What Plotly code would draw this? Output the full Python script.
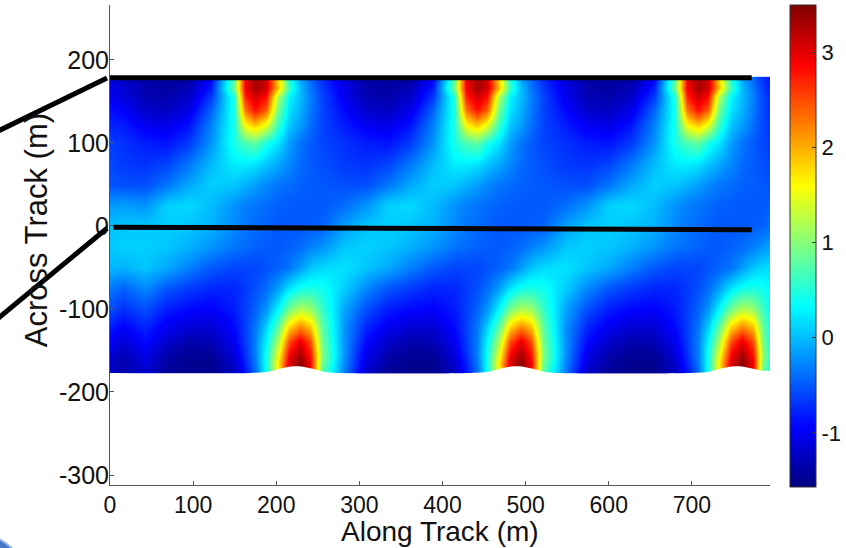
import plotly.graph_objects as go

# Along-track sample positions (m); extra samples bracket each peak
ALONG = [-11, 16,
         42, 69, 95, 122, 149, 162, 175, 188, 202, 215, 228, 241, 255, 282,
         308, 335, 361, 388, 414, 428, 441, 454, 468, 481, 494, 507, 521, 547,
         574, 600, 627, 654, 680, 694, 707, 720, 733, 747, 760, 773, 786, 813]
# Across-track rows (m), bottom to top
ACROSS = [-174, -166, -155, -140, -122, -100, -75, -50, -25, 0,
          25, 50, 75, 100, 122, 140, 155, 166, 175]

# Field values, one list per across-track row (bottom to top)
ROW_M174 = [-1.15, -1.35,
            -1.2, -1.45, -1.5, -1.5, -1.25, -0.83, -0.4, 0.4, 1.6, 3.0, 3.45, 2.9, 0.8, -0.3,
            -1.2, -1.45, -1.5, -1.5, -1.25, -0.83, -0.4, 0.4, 1.6, 3.0, 3.45, 2.9, 0.8, -0.3,
            -1.2, -1.45, -1.5, -1.5, -1.25, -0.83, -0.4, 0.4, 1.6, 3.0, 3.45, 2.9, 0.8, -0.3]
ROW_M166 = [-1.1, -1.35,
            -1.1, -1.4, -1.5, -1.5, -1.2, -0.78, -0.35, 0.4, 1.7, 3.05, 3.45, 2.95, 0.9, -0.25,
            -1.1, -1.4, -1.5, -1.5, -1.2, -0.78, -0.35, 0.4, 1.7, 3.05, 3.45, 2.95, 0.9, -0.25,
            -1.1, -1.4, -1.5, -1.5, -1.2, -0.78, -0.35, 0.4, 1.7, 3.05, 3.45, 2.95, 0.9, -0.25]
ROW_M155 = [-1.0, -1.3,
            -1.05, -1.35, -1.45, -1.45, -1.1, -0.7, -0.3, 0.4, 1.5, 2.9, 3.3, 2.8, 1.0, -0.2,
            -1.05, -1.35, -1.45, -1.45, -1.1, -0.7, -0.3, 0.4, 1.5, 2.9, 3.3, 2.8, 1.0, -0.2,
            -1.05, -1.35, -1.45, -1.45, -1.1, -0.7, -0.3, 0.4, 1.5, 2.9, 3.3, 2.8, 1.0, -0.2]
ROW_M140 = [-0.85, -1.15,
            -0.9, -1.2, -1.35, -1.3, -1.0, -0.65, -0.3, 0.3, 1.2, 2.5, 3.0, 2.5, 0.9, -0.2,
            -0.9, -1.2, -1.35, -1.3, -1.0, -0.65, -0.3, 0.3, 1.2, 2.5, 3.0, 2.5, 0.9, -0.2,
            -0.9, -1.2, -1.35, -1.3, -1.0, -0.65, -0.3, 0.3, 1.2, 2.5, 3.0, 2.5, 0.9, -0.2]
ROW_M122 = [-0.7, -0.95,
            -0.75, -1.0, -1.15, -1.15, -0.9, -0.63, -0.35, 0.1, 0.8, 1.8, 2.2, 1.9, 0.8, -0.2,
            -0.75, -1.0, -1.15, -1.15, -0.9, -0.63, -0.35, 0.1, 0.8, 1.8, 2.2, 1.9, 0.8, -0.2,
            -0.75, -1.0, -1.15, -1.15, -0.9, -0.63, -0.35, 0.1, 0.8, 1.8, 2.2, 1.9, 0.8, -0.2]
ROW_M100 = [-0.45, -0.7,
            -0.55, -0.8, -0.9, -0.95, -0.8, -0.63, -0.45, -0.2, 0.3, 0.9, 1.2, 1.1, 0.6, -0.1,
            -0.55, -0.8, -0.9, -0.95, -0.8, -0.63, -0.45, -0.2, 0.3, 0.9, 1.2, 1.1, 0.6, -0.1,
            -0.55, -0.8, -0.9, -0.95, -0.8, -0.63, -0.45, -0.2, 0.3, 0.9, 1.2, 1.1, 0.6, -0.1]
ROW_M75 = [-0.25, -0.45,
           -0.25, -0.5, -0.65, -0.75, -0.75, -0.65, -0.55, -0.4, -0.15, 0.2, 0.4, 0.45, 0.4, 0.1,
           -0.25, -0.5, -0.65, -0.75, -0.75, -0.65, -0.55, -0.4, -0.15, 0.2, 0.4, 0.45, 0.4, 0.1,
           -0.25, -0.5, -0.65, -0.75, -0.75, -0.65, -0.55, -0.4, -0.15, 0.2, 0.4, 0.45, 0.4, 0.1]
ROW_M50 = [0.0, -0.05,
           0.05, -0.1, -0.3, -0.5, -0.6, -0.6, -0.6, -0.53, -0.45, -0.35, -0.15, 0.05, 0.15, 0.2,
           0.05, -0.1, -0.3, -0.5, -0.6, -0.6, -0.6, -0.53, -0.45, -0.35, -0.15, 0.05, 0.15, 0.2,
           0.05, -0.1, -0.3, -0.5, -0.6, -0.6, -0.6, -0.53, -0.45, -0.35, -0.15, 0.05, 0.15, 0.2]
ROW_M25 = [0.05, 0.1,
           0.1, 0.05, -0.05, -0.2, -0.35, -0.4, -0.45, -0.48, -0.5, -0.45, -0.4, -0.3, -0.2, 0.05,
           0.1, 0.05, -0.05, -0.2, -0.35, -0.4, -0.45, -0.48, -0.5, -0.45, -0.4, -0.3, -0.2, 0.05,
           0.1, 0.05, -0.05, -0.2, -0.35, -0.4, -0.45, -0.48, -0.5, -0.45, -0.4, -0.3, -0.2, 0.05]
ROW_0 = [0.0, 0.05,
         0.05, 0.1, 0.05, -0.05, -0.25, -0.35, -0.4, -0.45, -0.5, -0.5, -0.5, -0.48, -0.45, -0.15,
         0.05, 0.1, 0.05, -0.05, -0.25, -0.35, -0.4, -0.45, -0.5, -0.5, -0.5, -0.48, -0.45, -0.15,
         0.05, 0.1, 0.05, -0.05, -0.25, -0.35, -0.4, -0.45, -0.5, -0.5, -0.5, -0.48, -0.45, -0.15]
ROW_25 = [-0.2, -0.15,
          -0.2, 0.1, 0.15, 0.0, -0.2, -0.3, -0.35, -0.4, -0.45, -0.48, -0.5, -0.5, -0.5, -0.4,
          -0.2, 0.1, 0.15, 0.0, -0.2, -0.3, -0.35, -0.4, -0.45, -0.48, -0.5, -0.5, -0.5, -0.4,
          -0.2, 0.1, 0.15, 0.0, -0.2, -0.3, -0.35, -0.4, -0.45, -0.48, -0.5, -0.5, -0.5, -0.4]
ROW_50 = [-0.5, -0.55,
          -0.55, -0.35, -0.1, 0.1, 0.05, -0.05, -0.15, -0.25, -0.35, -0.4, -0.45, -0.48, -0.5, -0.55,
          -0.55, -0.35, -0.1, 0.1, 0.05, -0.05, -0.15, -0.25, -0.35, -0.4, -0.45, -0.48, -0.5, -0.55,
          -0.55, -0.35, -0.1, 0.1, 0.05, -0.05, -0.15, -0.25, -0.35, -0.4, -0.45, -0.48, -0.5, -0.55]
ROW_75 = [-0.55, -0.65,
          -0.7, -0.6, -0.35, 0.0, 0.25, 0.25, 0.2, 0.05, -0.1, -0.25, -0.4, -0.48, -0.55, -0.65,
          -0.7, -0.6, -0.35, 0.0, 0.25, 0.25, 0.2, 0.05, -0.1, -0.25, -0.4, -0.48, -0.55, -0.65,
          -0.7, -0.6, -0.35, 0.0, 0.25, 0.25, 0.2, 0.05, -0.1, -0.25, -0.4, -0.48, -0.55, -0.65]
ROW_100 = [-0.6, -0.7,
           -0.8, -0.85, -0.65, -0.2, 0.45, 0.7, 0.8, 0.45, 0.2, -0.15, -0.35, -0.48, -0.6, -0.7,
           -0.8, -0.85, -0.65, -0.2, 0.45, 0.7, 0.8, 0.45, 0.2, -0.15, -0.35, -0.48, -0.6, -0.7,
           -0.8, -0.85, -0.65, -0.2, 0.45, 0.7, 0.8, 0.45, 0.2, -0.15, -0.35, -0.48, -0.6, -0.7]
ROW_122 = [-0.75, -0.8,
           -1.0, -1.05, -0.85, -0.3, 0.45, 1.6, 1.9, 1.5, 0.6, 0.05, -0.15, -0.38, -0.6, -0.8,
           -1.0, -1.05, -0.85, -0.3, 0.45, 1.6, 1.9, 1.5, 0.6, 0.05, -0.15, -0.38, -0.6, -0.8,
           -1.0, -1.05, -0.85, -0.3, 0.45, 1.6, 1.9, 1.5, 0.6, 0.05, -0.15, -0.38, -0.6, -0.8]
ROW_140 = [-0.85, -0.95,
           -1.2, -1.25, -1.05, -0.45, 0.45, 2.3, 2.8, 2.4, 0.9, 0.2, -0.05, -0.33, -0.6, -0.9,
           -1.2, -1.25, -1.05, -0.45, 0.45, 2.3, 2.8, 2.4, 0.9, 0.2, -0.05, -0.33, -0.6, -0.9,
           -1.2, -1.25, -1.05, -0.45, 0.45, 2.3, 2.8, 2.4, 0.9, 0.2, -0.05, -0.33, -0.6, -0.9]
ROW_155 = [-0.95, -1.1,
           -1.3, -1.35, -1.2, -0.65, 0.5, 2.7, 3.1, 2.8, 1.2, 0.3, 0.0, -0.3, -0.6, -1.0,
           -1.3, -1.35, -1.2, -0.65, 0.5, 2.7, 3.1, 2.8, 1.2, 0.3, 0.0, -0.3, -0.6, -1.0,
           -1.3, -1.35, -1.2, -0.65, 0.5, 2.7, 3.1, 2.8, 1.2, 0.3, 0.0, -0.3, -0.6, -1.0]
ROW_166 = [-1.0, -1.15,
           -1.35, -1.4, -1.3, -0.8, 0.9, 2.9, 3.3, 3.1, 1.9, 0.6, 0.0, -0.35, -0.65, -1.05,
           -1.35, -1.4, -1.3, -0.8, 0.9, 2.9, 3.3, 3.1, 1.9, 0.6, 0.0, -0.35, -0.65, -1.05,
           -1.35, -1.4, -1.3, -0.8, 0.9, 2.9, 3.3, 3.1, 1.9, 0.6, 0.0, -0.35, -0.65, -1.05]
ROW_175 = [-1.0, -1.2,
           -1.35, -1.4, -1.35, -0.9, 0.8, 2.9, 3.3, 3.1, 1.8, 0.5, -0.1, -0.4, -0.7, -1.1,
           -1.35, -1.4, -1.35, -0.9, 0.8, 2.9, 3.3, 3.1, 1.8, 0.5, -0.1, -0.4, -0.7, -1.1,
           -1.35, -1.4, -1.35, -0.9, 0.8, 2.9, 3.3, 3.1, 1.8, 0.5, -0.1, -0.4, -0.7, -1.1]

FIELD = [ROW_M174, ROW_M166, ROW_M155, ROW_M140, ROW_M122, ROW_M100, ROW_M75,
         ROW_M50, ROW_M25, ROW_0, ROW_25, ROW_50, ROW_75, ROW_100, ROW_122,
         ROW_140, ROW_155, ROW_166, ROW_175]

# Lower boundary of the mapped swath (m); it bulges up under each peak
SWATH_EDGE_X = [0, 170, 188, 202, 214, 222, 232, 244, 257, 275,
                435, 453, 467, 479, 487, 497, 509, 522, 540,
                700, 718, 732, 744, 752, 762, 774, 787, 794]
SWATH_EDGE_Y = [-177, -177, -176, -172.5, -170, -169, -169.5, -172, -175.5, -177,
                -177, -176, -172.5, -170, -169, -169.5, -172, -175.5, -177,
                -177, -176, -172.5, -170, -169, -169.5, -172, -174.5, -175]
SWATH_FLOOR = -190

# Track lines drawn over the field
EDGE_TRACK_X = [0, 772]
EDGE_TRACK_Y = [178.5, 178.5]
CENTER_TRACK_X = [4, 772]
CENTER_TRACK_Y = [-1.5, -4.5]

X_TICKS = [0, 100, 200, 300, 400, 500, 600, 700]
Y_TICKS = [-300, -200, -100, 0, 100, 200]
Y_LABELS = ["-300", "-200", "-100", "0", "100", "200"]
CBAR_TICKS = [-1, 0, 1, 2, 3]
CBAR_LABELS = ["-1", "0", "1", "2", "3"]

JET = [[0.0, "#000080"], [0.125, "#0000ff"], [0.375, "#00ffff"],
       [0.625, "#ffff00"], [0.875, "#ff0000"], [1.0, "#800000"]]

FONT = "Liberation Sans, Arial, sans-serif"

fig = go.Figure()
fig.add_trace(go.Heatmap(
    x=ALONG, y=ACROSS, z=FIELD,
    zmin=-1.57, zmax=3.5, zsmooth="best",
    colorscale=JET,
    colorbar=dict(
        x=1.0303, xanchor="left", xpad=0,
        y=1.0, yanchor="top", ypad=0,
        len=482, lenmode="pixels",
        thickness=26, thicknessmode="pixels",
        outlinewidth=1, outlinecolor="#333333",
        tickvals=CBAR_TICKS, ticktext=CBAR_LABELS,
        ticks="inside", ticklen=4, tickcolor="#333333",
        tickfont=dict(family=FONT, size=22, color="#111111"),
    ),
    hoverinfo="skip",
))

# blank out everything below the swath's lower boundary
mask_x = SWATH_EDGE_X + [SWATH_EDGE_X[-1], SWATH_EDGE_X[0]]
mask_y = SWATH_EDGE_Y + [SWATH_FLOOR, SWATH_FLOOR]
fig.add_trace(go.Scatter(x=mask_x, y=mask_y, mode="lines", fill="toself",
                         fillcolor="white", line=dict(width=0, color="white"),
                         line_shape="spline",
                         showlegend=False, hoverinfo="skip"))

fig.add_trace(go.Scatter(x=EDGE_TRACK_X, y=EDGE_TRACK_Y, mode="lines",
                         line=dict(color="black", width=5), showlegend=False,
                         hoverinfo="skip"))
fig.add_trace(go.Scatter(x=CENTER_TRACK_X, y=CENTER_TRACK_Y, mode="lines",
                         line=dict(color="black", width=5), showlegend=False,
                         hoverinfo="skip"))

axis_common = dict(
    showgrid=False, zeroline=False, showline=True, linecolor="#555555",
    linewidth=1, ticks="inside", ticklen=4, tickcolor="#555555",
    layer="above traces",
)
fig.update_xaxes(range=[0, 794], tickvals=X_TICKS, **axis_common,
                 tickfont=dict(family=FONT, size=23, color="#111111"),
                 ticklabelstandoff=-1)
fig.update_yaxes(range=[-312, 266], tickvals=Y_TICKS, ticktext=Y_LABELS,
                 **axis_common,
                 tickfont=dict(family=FONT, size=25, color="#111111"),
                 ticklabelstandoff=-5)

# axis titles placed as free text
fig.add_annotation(text="Along Track (m)", xref="paper", yref="paper",
                   x=0.5, y=-0.097, xanchor="center", yanchor="middle",
                   showarrow=False,
                   font=dict(family=FONT, size=28, color="#111111"))
fig.add_annotation(text="Across Track (m)", textangle=-90, xref="paper", yref="paper",
                   x=-0.112, y=0.531, xanchor="center", yanchor="middle",
                   showarrow=False,
                   font=dict(family=FONT, size=31, color="#111111"))

# callout lines leading in from the left margin, and the corner badge
fig.add_shape(type="line", xref="paper", yref="paper",
              x0=-0.182, y0=0.729, x1=-0.0045, y1=0.848,
              line=dict(color="black", width=5))
fig.add_shape(type="line", xref="paper", yref="paper",
              x0=-0.182, y0=0.333, x1=-0.0045, y1=0.535,
              line=dict(color="black", width=5))
fig.add_shape(type="circle", xref="paper", yref="paper",
              x0=-0.265, y0=-0.292, x1=-0.129, y1=-0.104,
              fillcolor="#4a78c8", line=dict(color="#8fb0e0", width=2))

fig.update_layout(
    width=846, height=548,
    margin=dict(l=110, r=76, t=5, b=63, autoexpand=False),
    paper_bgcolor="white", plot_bgcolor="white",
    showlegend=False,
    font=dict(family=FONT),
)

fig.write_html("out.html")
